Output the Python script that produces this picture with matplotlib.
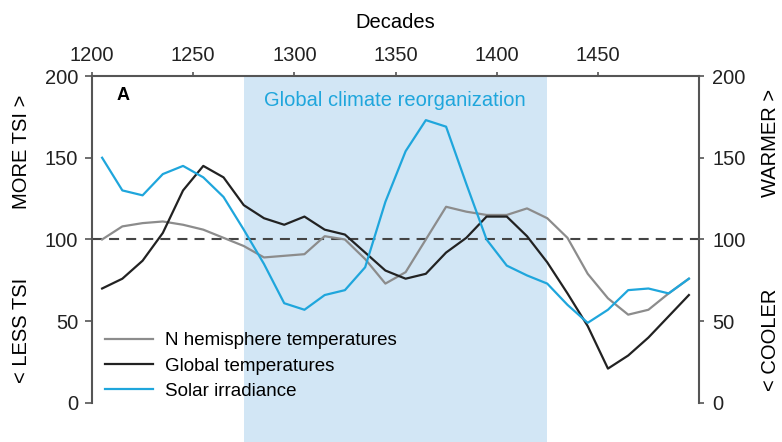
import numpy as np
import matplotlib
matplotlib.use('Agg')
import matplotlib.pyplot as plt

plt.rcParams['font.family'] = ['Liberation Sans', 'DejaVu Sans']

# Decades (mid-points) and the three series
decades = [1205, 1215, 1225, 1235, 1245, 1255, 1265, 1275, 1285, 1295,
           1305, 1315, 1325, 1335, 1345, 1355, 1365, 1375, 1385, 1395,
           1405, 1415, 1425, 1435, 1445, 1455, 1465, 1475, 1485, 1495]

n_hemisphere = [100, 108, 110, 111, 109, 106, 101, 96, 89, 90,
                91, 102, 100, 88, 73, 80, 100, 120, 117, 115,
                115, 119, 113, 101, 79, 64, 54, 57, 67, 76]

global_temp = [70, 76, 87, 104, 130, 145, 138, 121, 113, 109,
               114, 106, 103, 92, 81, 76, 79, 92, 101, 114,
               114, 102, 86, 67, 47, 21, 29, 40, 53, 66]

solar = [150, 130, 127, 140, 145, 138, 126, 106, 85, 61,
         57, 66, 69, 83, 123, 154, 173, 169, 134, 100,
         84, 78, 73, 60, 49, 57, 69, 70, 67, 76]

reorg_start, reorg_end = 1275, 1425
xticks = [1200, 1250, 1300, 1350, 1400, 1450]
yticks = [0, 50, 100, 150, 200]

col_gray = '#8c8c8c'
col_black = '#222222'
col_blue = '#1fa6dc'
col_shade = '#d2e6f5'
col_axis = '#555555'

fs_tick = 14.5
fs_text = 14.5

fig = plt.figure(figsize=(7.82, 4.42), dpi=100)
ax = fig.add_axes([92 / 782, 0, 607 / 782, 366 / 442])

ax.axvspan(reorg_start, reorg_end, color=col_shade, lw=0, zorder=0)
ax.axhline(100, color='#444444', lw=1.5, dashes=(4.8, 3.4), zorder=1)

ax.plot(decades, n_hemisphere, color=col_gray, lw=1.6, label='N hemisphere temperatures', zorder=3)
ax.plot(decades, global_temp, color=col_black, lw=1.6, label='Global temperatures', zorder=3)
ax.plot(decades, solar, color=col_blue, lw=1.6, label='Solar irradiance', zorder=3)

ax.set_xlim(1200, 1500)
ax.set_ylim(-23.9, 200)

# spines: top + left (and right via twin), no bottom
ax.spines['bottom'].set_visible(False)
ax.spines['right'].set_visible(False)
for s in ['top', 'left']:
    ax.spines[s].set_color(col_axis)
    ax.spines[s].set_linewidth(1.5)
ax.spines['left'].set_bounds(0, 200)

ax.xaxis.tick_top()
ax.set_xticks(xticks)
ax.tick_params(axis='x', which='both', direction='out', length=3, width=1.2,
               color=col_axis, pad=4.8, labelsize=fs_tick, labelcolor='#222222')
ax.set_yticks(yticks)
ax.tick_params(axis='y', direction='out', length=5, width=1.2,
               color=col_axis, pad=5, labelsize=fs_tick, labelcolor='#222222')
ax.xaxis.set_label_position('top')
ax.set_xlabel('Decades', fontsize=fs_text, labelpad=13)

ax2 = ax.twinx()
ax2.set_ylim(ax.get_ylim())
ax2.set_yticks(yticks)
for s in ['top', 'left', 'bottom']:
    ax2.spines[s].set_visible(False)
ax2.spines['right'].set_color(col_axis)
ax2.spines['right'].set_linewidth(1.5)
ax2.spines['right'].set_bounds(0, 200)
ax2.tick_params(axis='y', direction='out', length=3.5, width=1.2,
                color=col_axis, pad=6, labelsize=fs_tick, labelcolor='#222222')

ax.text(1212, 188, 'A', fontsize=13, fontweight='bold', ha='left', va='center')
ax.text(1349.5, 185, 'Global climate reorganization', color=col_blue,
        fontsize=fs_text, ha='center', va='center')

ax.legend(loc='upper left', bbox_to_anchor=(0.021, 0.30), frameon=False,
          fontsize=13.5, handlelength=2.6, handletextpad=0.6,
          labelspacing=0.43, borderpad=0, borderaxespad=0)

fig.text(22 / 782, 1 - 152 / 442, 'MORE TSI >', rotation=90, fontsize=fs_text,
         ha='center', va='center')
fig.text(22 / 782, 1 - 330 / 442, '< LESS TSI', rotation=90, fontsize=fs_text,
         ha='center', va='center')
fig.text(770 / 782, 1 - 143 / 442, 'WARMER >', rotation=90, fontsize=fs_text,
         ha='center', va='center')
fig.text(770 / 782, 1 - 340 / 442, '< COOLER', rotation=90, fontsize=fs_text,
         ha='center', va='center')

fig.savefig('out.png', dpi=100)
